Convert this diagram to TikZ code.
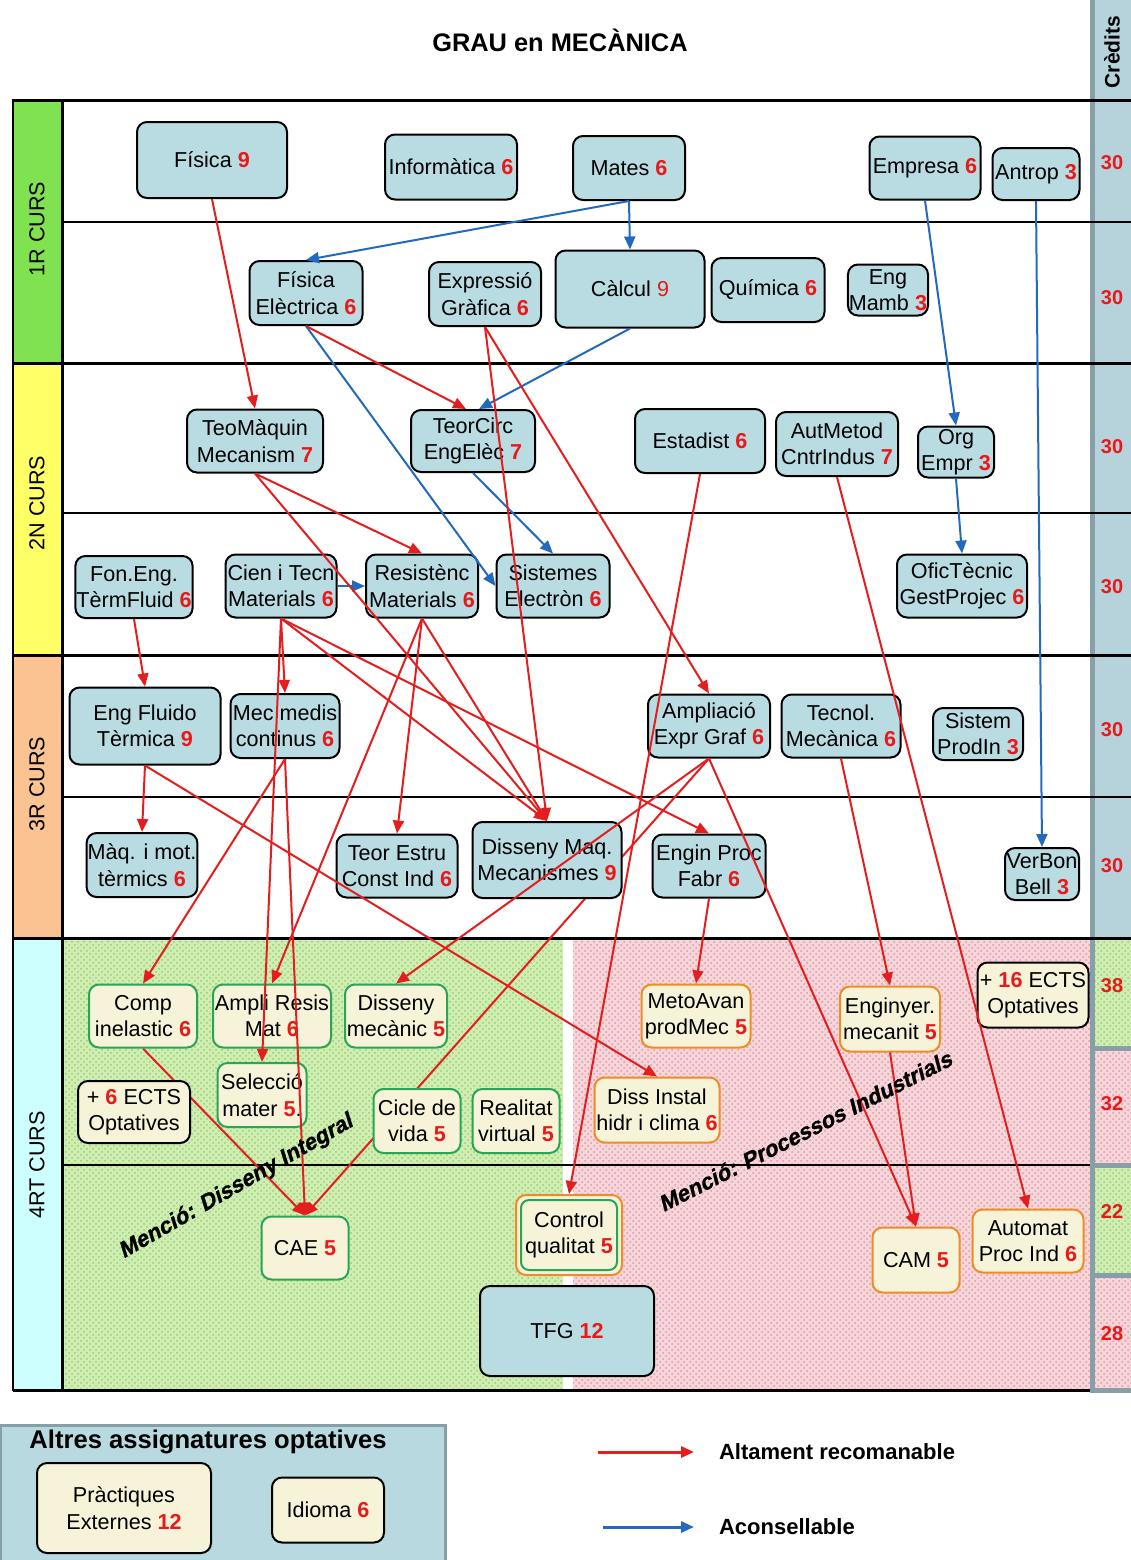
\documentclass[tikz,border=0pt]{standalone}
\usepackage{fontspec}
\setmainfont{Liberation Sans}
\newfontfamily\mencfont{Liberation Sans}[BoldFeatures={FakeSlant=0.22,FakeBold=1.2}]
\usetikzlibrary{arrows.meta,patterns}
\definecolor{boxblue}{RGB}{184,220,226}
\definecolor{numred}{RGB}{232,25,25}
\definecolor{arrred}{RGB}{228,30,30}
\definecolor{arrblue}{RGB}{35,105,190}
\definecolor{yone}{RGB}{128,226,80}
\definecolor{ytwo}{RGB}{255,255,102}
\definecolor{ythree}{RGB}{250,195,145}
\definecolor{yfour}{RGB}{205,255,255}
\definecolor{credcol}{RGB}{182,211,219}
\definecolor{crededge}{RGB}{135,160,168}
\definecolor{greenarea}{RGB}{208,238,178}
\definecolor{greendot}{RGB}{150,205,120}
\definecolor{pinkarea}{RGB}{246,214,218}
\definecolor{pinkdot}{RGB}{225,150,160}
\definecolor{beige}{RGB}{246,243,216}
\definecolor{gbord}{RGB}{40,165,85}
\definecolor{obord}{RGB}{240,140,40}
\definecolor{legbg}{RGB}{184,217,224}
\newcommand\redn[1]{{\bfseries\color{numred}#1}}
\pgfdeclarelayer{background}
\pgfdeclarelayer{lowlines}
\pgfsetlayers{background,lowlines,main}
\tikzset{
  box/.style={draw=black, line width=1pt, rounded corners=5pt, fill=boxblue, align=center, inner sep=0.5pt},
  sz/.style 2 args={minimum width=#1*0.5pt, minimum height=#2*0.5pt},
  gbox/.style={box, fill=beige, draw=gbord},
  obox/.style={box, fill=beige, draw=obord},
  kbox/.style={box, fill=beige},
  ra/.style={draw=arrred, line width=1pt, -{Triangle[length=6.5pt,width=5.5pt]}, fill=arrred},
  ba/.style={draw=arrblue, line width=1pt, -{Triangle[length=6.5pt,width=5.5pt]}, fill=arrblue},
  credn/.style={font=\fontsize{10}{12}\selectfont\bfseries, text=numred},
  yearlab/.style={rotate=90, font=\fontsize{10.8}{13}\selectfont},
  mencio/.style={font=\mencfont\fontsize{11.2}{13}\selectfont\bfseries},
}
\begin{document}
\begin{tikzpicture}[x=0.5pt,y=-0.5pt, font=\fontsize{10.8}{13.2}\selectfont]
\useasboundingbox (0,0) rectangle (1131,1560);
\begin{pgfonlayer}{background}
  \fill[white] (0,0) rectangle (1131,1560);
  \fill[credcol] (1090,0) rectangle (1131,938);
  \fill[greenarea] (62,938) rectangle (563,1390);
  \fill[pattern=crosshatch dots, pattern color=greendot] (62,938) rectangle (563,1390);
  \fill[pinkarea] (573,938) rectangle (1090,1390);
  \fill[pattern=crosshatch dots, pattern color=pinkdot] (573,938) rectangle (1090,1390);
  \fill[greenarea] (1090,938) rectangle (1131,1048);
  \fill[pattern=crosshatch dots, pattern color=greendot] (1090,938) rectangle (1131,1048);
  \fill[pinkarea] (1090,1048) rectangle (1131,1165);
  \fill[pattern=crosshatch dots, pattern color=pinkdot] (1090,1048) rectangle (1131,1165);
  \fill[greenarea] (1090,1165) rectangle (1131,1275);
  \fill[pattern=crosshatch dots, pattern color=greendot] (1090,1165) rectangle (1131,1275);
  \fill[pinkarea] (1090,1275) rectangle (1131,1390);
  \fill[pattern=crosshatch dots, pattern color=pinkdot] (1090,1275) rectangle (1131,1390);
  \draw[crededge, line width=2.5pt] (1090,1048) -- (1131,1048);
  \draw[crededge, line width=2.5pt] (1090,1165) -- (1131,1165);
  \draw[crededge, line width=2.5pt] (1090,1275) -- (1131,1275);
  \draw[crededge, line width=2.5pt] (1090,1390) -- (1131,1390);
  \draw[crededge, line width=2.5pt] (1092,0) -- (1092,1390);
  % year column
  \draw[line width=1pt, fill=yone] (13,100) rectangle (62,363);
  \draw[line width=1pt, fill=ytwo] (13,363) rectangle (62,655);
  \draw[line width=1pt, fill=ythree] (13,655) rectangle (62,938);
  \draw[line width=1pt, fill=yfour] (13,938) rectangle (62,1390);
  % grid
  \draw[line width=1.5pt] (13,100) -- (1131,100);
  \draw[line width=1.5pt] (13,363) -- (1131,363);
  \draw[line width=1.5pt] (13,655) -- (1131,655);
  \draw[line width=1.5pt] (13,938) -- (1131,938);
  \draw[line width=1.5pt] (13,1390) -- (1090,1390);
  \draw[line width=0.7pt] (62,222) -- (1131,222);
  \draw[line width=0.7pt] (62,513) -- (1131,513);
  \draw[line width=0.7pt] (62,797) -- (1131,797);
  \draw[line width=0.9pt] (62,1165) -- (1090,1165);
  \draw[line width=1.5pt] (62,100) -- (62,1390);
\end{pgfonlayer}

% title and headers
\node (title) at (560,40) {\fontsize{12.7}{15}\selectfont\bfseries GRAU en MECÀNICA};
\node[rotate=90, font=\fontsize{10.5}{12}\selectfont\bfseries] (credh) at (1112,52) {Crèdits};
\node[yearlab] (c1) at (37,229) {1R CURS};
\node[yearlab] (c2) at (37,503) {2N CURS};
\node[yearlab] (c3) at (37,784) {3R CURS};
\node[yearlab] (c4) at (37,1165) {4RT CURS};

% credits
\node[credn] (k1) at (1112,163) {30};
\node[credn] (k2) at (1112,298) {30};
\node[credn] (k3) at (1112,447) {30};
\node[credn] (k4) at (1112,587) {30};
\node[credn] (k5) at (1112,730) {30};
\node[credn] (k6) at (1112,866) {30};
\node[credn] (k7) at (1112,986) {38};
\node[credn] (k8) at (1112,1104) {32};
\node[credn] (k9) at (1112,1212) {22};
\node[credn] (k10) at (1112,1334) {28};

% Year 1
\node[box, sz={150}{76}] (fisica) at (212,160) {Física \redn{9}};
\node[box, sz={132}{65}] (info) at (451,167) {Informàtica \redn{6}};
\node[box, sz={112}{64}] (mates) at (629,168) {Mates \redn{6}};
\node[box, sz={111}{63}] (empresa) at (925,168) {Empresa \redn{6}};
\node[box, sz={87}{52}] (antrop) at (1036,174) {Antrop \redn{3}};
\node[box, sz={113}{64}] (fisel) at (306,293) {Física\\Elèctrica \redn{6}};
\node[box, sz={112}{64}] (expg) at (485,294) {Expressió\\Gràfica \redn{6}};
\node[box, sz={149}{77}] (calcul) at (630,289) {Càlcul {\color{numred}9}};
\node[box, sz={113}{64}] (quim) at (768,290) {Química \redn{6}};
\node[box, sz={78}{51}] (engmamb) at (888,290) {Eng\\Mamb \redn{3}};

% Year 2
\node[box, sz={136}{63}] (teomaq) at (255,441) {TeoMàquin\\Mecanism \redn{7}};
\node[box, sz={124}{62}] (teorcirc) at (473,441) {TeorCirc\\EngElèc \redn{7}};
\node[box, sz={130}{64}] (estad) at (700,441) {Estadist \redn{6}};
\node[box, sz={122}{64}] (autmet) at (837,444) {AutMetod\\CntrIndus \redn{7}};
\node[box, sz={76}{51}] (orgempr) at (956,452) {Org\\Empr \redn{3}};
\node[box, sz={116}{62}] (foneng) at (134,587) {Fon.Eng.\\TèrmFluid \redn{6}};
\node[box, sz={111}{63}] (cien) at (281,586) {Cien i Tecn\\Materials \redn{6}};
\node[box, sz={112}{63}] (resist) at (422,586) {Resistènc\\Materials \redn{6}};
\node[box, sz={113}{63}] (sistem) at (553,586) {Sistemes\\Electròn \redn{6}};
\node[box, sz={130}{63}] (ofic) at (962,586) {OficTècnic\\GestProjec \redn{6}};

% Year 3
\node[box, sz={151}{77}] (engfl) at (145,726) {Eng Fluido\\Tèrmica \redn{9}};
\node[box, sz={109}{64}] (mecmed) at (285,726) {Mec medis\\continus \redn{6}};
\node[box, sz={122}{63}] (ampl) at (709,726) {Ampliació\\Expr Graf \redn{6}};
\node[box, sz={119}{63}] (tecnol) at (841,726) {Tecnol.\\Mecànica \redn{6}};
\node[box, sz={90}{52}] (sisprod) at (978,734) {Sistem\\ProdIn \redn{3}};
\node[box, sz={106}{64}] (maqmot) at (142,865) {Màq. i mot.\\tèrmics \redn{6}};
\node[box, sz={121}{63}] (teorest) at (397,866) {Teor Estru\\Const Ind \redn{6}};
\node[box, sz={149}{76}] (dissmaq) at (547,860) {Disseny Maq.\\Mecanismes \redn{9}};
\node[box, sz={113}{63}] (enginpr) at (709,866) {Engin Proc\\Fabr \redn{6}};
\node[box, sz={74}{52}] (verbon) at (1042,874) {VerBon\\Bell \redn{3}};

% Year 4
\node[gbox, sz={108}{63}] (compin) at (143,1016) {Comp\\inelastic \redn{6}};
\node[gbox, sz={118}{63}] (amplires) at (272,1016) {Ampli Resis\\Mat \redn{6}};
\node[gbox, sz={102}{63}] (dissmec) at (396,1016) {Disseny\\mecànic \redn{5}};
\node[kbox, sz={112}{62}] (ects6) at (134,1112) {+ \redn{6} ECTS\\Optatives};
\node[gbox, sz={89}{64}] (selec) at (262,1095) {Selecció\\mater \redn{5}.};
\node[gbox, sz={87}{64}] (cicle) at (417,1121) {Cicle de\\vida \redn{5}};
\node[gbox, sz={87}{64}] (realit) at (516,1121) {Realitat\\virtual \redn{5}};
\node[obox, sz={109}{63}] (metoav) at (696,1016) {MetoAvan\\prodMec \redn{5}};
\node[obox, sz={100}{65}] (enginy) at (890,1019) {Enginyer.\\mecanit \redn{5}};
\node[kbox, sz={111}{65}] (ects16) at (1033,995) {+ \redn{16} ECTS\\Optatives};
\node[obox, sz={125}{65}] (dissinst) at (657,1110) {Diss Instal\\hidr i clima \redn{6}};
\node[gbox, sz={87}{63}] (cae) at (305,1248) {CAE \redn{5}};
\node[obox, sz={106}{80}] (contq) at (569,1235) {Control\\qualitat \redn{5}};
\draw[gbord, line width=1pt, rounded corners=4pt] ([shift={(6,6)}]contq.north west) rectangle ([shift={(-6,-6)}]contq.south east);
\node[obox, sz={87}{65}] (cam) at (916,1260) {CAM \redn{5}};
\node[obox, sz={111}{63}] (automat) at (1028,1241) {Automat\\Proc Ind \redn{6}};
\node[box, sz={174}{90}] (tfg) at (567,1331) {TFG \redn{12}};

% Blue arrows
\draw[ba] (mates.south) -- (fisel.north);
\draw[ba] (mates.south) -- (calcul.north);
\draw[ba] (calcul.south) -- ([xshift=3pt]teorcirc.north);
\draw[ba] (fisel.south) -- (sistem.west);
\draw[ba] (teorcirc.south) -- (sistem.north);
\draw[ba] (cien.east) -- (resist.west);
\draw[ba] (empresa.south) -- (orgempr.north);
\draw[ba] (orgempr.south) -- (ofic.north);
\draw[ba] (antrop.south) -- (verbon.north);

% Red arrows
\draw[ra] (fisica.south) -- (teomaq.north);
\draw[ra] (fisel.south) -- ([xshift=-3.5pt]teorcirc.north);
\draw[ra] (expg.south) -- (dissmaq.north);
\draw[ra] (expg.south) -- (ampl.north);
\draw[ra] (teomaq.south) -- (resist.north);
\draw[ra] (teomaq.south) -- (dissmaq.north);
\draw[ra] (cien.south) -- (mecmed.north);
\draw[ra] (cien.south) -- (selec.north);
\draw[ra] (cien.south) -- (dissmaq.north);
\draw[ra] (cien.south) -- (enginpr.north);
\draw[ra] (resist.south) -- (teorest.north);
\draw[ra] (resist.south) -- (dissmaq.north);
\draw[ra] (resist.south) -- (amplires.north);
\draw[ra] (foneng.south) -- (engfl.north);
\draw[ra] (engfl.south) -- (maqmot.north);
\draw[ra] (engfl.south) -- (dissinst.north);
\draw[ra] (estad.south) -- (contq.north);
\draw[ra] (autmet.south) -- (automat.north);
\draw[ra] (tecnol.south) -- (enginy.north);
\draw[ra] (enginpr.south) -- (metoav.north);
\draw[ra] (enginy.south) -- (cam.north);
\draw[ra] (ampl.south) -- (cam.north);
\draw[ra] (ampl.south) -- (dissmec.north);
\draw[ra] (mecmed.south) -- (compin.north);
\draw[ra] (mecmed.south) -- (cae.north);
\begin{pgfonlayer}{lowlines}
\draw[ra] (ampl.south) -- (cae.north);
\draw[ra] (compin.south) -- (cae.north);
\end{pgfonlayer}

% Mention labels
\node[mencio, rotate=30] (m1) at (236,1187) {Menció: Disseny Integral};
\node[mencio, rotate=27] (m2) at (805,1131) {Menció: Processos Industrials};

% Legend
\draw[crededge, fill=legbg, line width=1.5pt] (0,1425) rectangle (445,1580);
\node (legt) at (208,1442) {\fontsize{12.8}{15}\selectfont\bfseries Altres assignatures optatives};
\node[kbox, sz={174}{90}] (pract) at (124,1508) {Pràctiques\\Externes \redn{12}};
\node[kbox, sz={112}{65}] (idioma) at (328,1510) {Idioma \redn{6}};
\coordinate (r1) at (598,1452);
\coordinate (r2) at (694,1452);
\coordinate (b1) at (603,1527);
\coordinate (b2) at (694,1527);
\draw[ra, line width=1.5pt] (r1) -- (r2);
\draw[ba, line width=1.5pt] (b1) -- (b2);
\node[anchor=west, font=\fontsize{11}{13}\selectfont\bfseries] (lr) at (712,1452) {Altament recomanable};
\node[anchor=west, font=\fontsize{11}{13}\selectfont\bfseries] (lb) at (712,1527) {Aconsellable};
\end{tikzpicture}
\end{document}
